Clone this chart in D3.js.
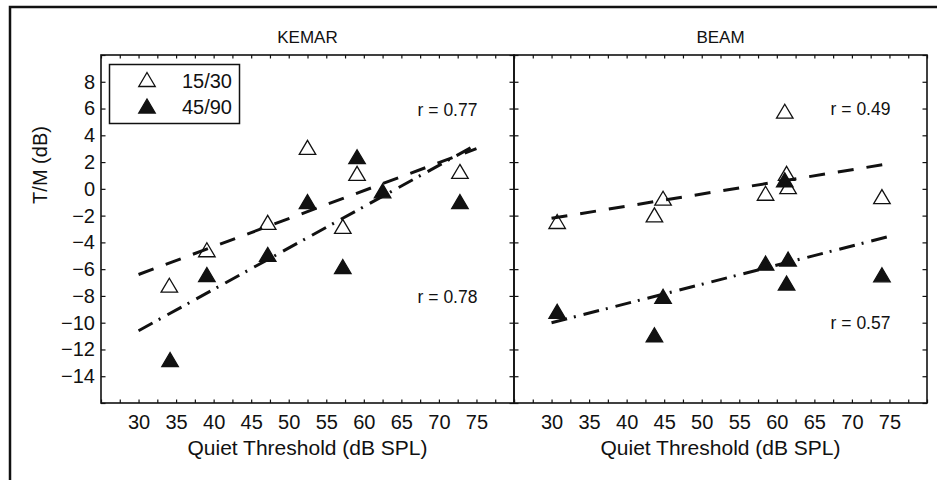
<!DOCTYPE html>
<html>
<head>
<meta charset="utf-8">
<script src="https://cdn.jsdelivr.net/npm/d3@7"></script>
<style>
  body { margin: 0; background: #fff; }
  svg text { font-family: "Liberation Sans", Arial, sans-serif; fill: #111; }
</style>
</head>
<body>
<div id="chart"></div>
<script>
// values
const seriesNames = ["15/30", "45/90"];
const panelNames = ["KEMAR", "BEAM"];

const kemarX15 = [34.1, 39.1, 47.2, 52.5, 59.1, 57.2, 72.8];
const kemarY15 = [-7.2, -4.55, -2.5, 3.1, 1.16, -2.8, 1.3];
const kemarX45 = [34.2, 39.1, 47.2, 52.5, 57.2, 59.1, 62.5, 72.8];
const kemarY45 = [-12.75, -6.4, -4.9, -0.95, -5.8, 2.4, -0.15, -0.95];

const beamX15 = [30.75, 43.7, 44.85, 58.5, 61.06, 61.3, 61.5, 74.0];
const beamY15 = [-2.44, -1.94, -0.7, -0.33, 5.8, 1.16, 0.17, -0.58];
const beamX45 = [30.75, 43.7, 44.85, 58.5, 61.06, 61.5, 61.3, 74.0];
const beamY45 = [-9.15, -10.9, -8.03, -5.55, 0.67, -5.25, -7.04, -6.42];

// regression lines: [x start, x end], [y start, y end]
const kemarFitX15 = [30, 75], kemarFitY15 = [-6.4, 3.0];
const kemarFitX45 = [30, 75], kemarFitY45 = [-10.6, 3.3];
const beamFitX15 = [30, 74.1], beamFitY15 = [-2.2, 1.8];
const beamFitX45 = [30, 75], beamFitY45 = [-10.0, -3.55];

const rLabels = [["r = 0.77", "r = 0.78"], ["r = 0.49", "r = 0.57"]];
const rLabelY = [[5.45, -8.55], [5.5, -10.45]]; // baseline, in data units

const xTickLabels = [30, 35, 40, 45, 50, 55, 60, 65, 70, 75];
const yTickLabels = [-14, -12, -10, -8, -6, -4, -2, 0, 2, 4, 6, 8];

const xDomain = [25, 80], yDomain = [-16, 10];

const W = 937, H = 480;
const plotTop = 55, plotBottom = 403;

const svg = d3.select("#chart")
    .append("svg")
    .attr("width", W)
    .attr("height", H);

// outer frame of the figure
svg.append("rect")
    .attr("x", 10).attr("y", 7)
    .attr("width", 940).attr("height", 480)
    .attr("fill", "none")
    .attr("stroke", "#111")
    .attr("stroke-width", 2.5);

const yScale = d3.scaleLinear().domain(yDomain).range([plotBottom, plotTop]);

const tri = (w, h) => `M0,${-h/2}L${w/2},${h/2}L${-w/2},${h/2}Z`;
const triPath = tri(16.5, 14);

const panels = [
    {name: panelNames[0], x0: 101, x1: 514,
     pts: [[kemarX15, kemarY15], [kemarX45, kemarY45]],
     fits: [[kemarFitX15, kemarFitY15], [kemarFitX45, kemarFitY45]]},
    {name: panelNames[1], x0: 514, x1: 927,
     pts: [[beamX15, beamY15], [beamX45, beamY45]],
     fits: [[beamFitX15, beamFitY15], [beamFitX45, beamFitY45]]}
];

const xTicks = d3.range(25, 80.01, 2.5);
const yTicks = d3.range(-16, 10.01, 2);

panels.forEach((p, i) => {
    const xScale = d3.scaleLinear().domain(xDomain).range([p.x0, p.x1]);
    const g = svg.append("g");

    // axes with inward ticks
    const fmtX = d => xTickLabels.includes(d) ? d : "";
    const fmtY = d => yTickLabels.includes(d) ? String(d).replace("-", "\u2212") : "";

    g.append("g")
        .attr("transform", `translate(0,${plotBottom})`)
        .call(d3.axisBottom(xScale).tickValues(xTicks).tickSize(-3.5).tickPadding(12).tickFormat(fmtX));
    g.append("g")
        .attr("transform", `translate(0,${plotTop})`)
        .call(d3.axisTop(xScale).tickValues(xTicks).tickSize(-3.5).tickFormat(""));
    g.append("g")
        .attr("transform", `translate(${p.x0},0)`)
        .call(d3.axisLeft(yScale).tickValues(yTicks).tickSize(-4.5).tickPadding(6)
            .tickFormat(i === 0 ? fmtY : ""));
    g.append("g")
        .attr("transform", `translate(${p.x1},0)`)
        .call(d3.axisRight(yScale).tickValues(yTicks).tickSize(-4.5).tickFormat(""));

    g.selectAll(".domain").remove();
    g.selectAll(".tick line").attr("stroke", "#111").attr("stroke-width", 1.2);
    g.selectAll(".tick text").style("font-size", "20px").attr("fill", "#111");

    // frame
    g.append("rect")
        .attr("x", p.x0).attr("y", plotTop)
        .attr("width", p.x1 - p.x0).attr("height", plotBottom - plotTop)
        .attr("fill", "none")
        .attr("stroke", "#111")
        .attr("stroke-width", 1.6);

    // title
    g.append("text")
        .attr("x", (p.x0 + p.x1) / 2).attr("y", 43)
        .attr("text-anchor", "middle")
        .style("font-size", "17px")
        .text(p.name);

    // x label
    g.append("text")
        .attr("x", (p.x0 + p.x1) / 2).attr("y", 455)
        .attr("text-anchor", "middle")
        .style("font-size", "21px")
        .text("Quiet Threshold (dB SPL)");

    // markers: open first, filled on top
    p.pts.forEach(([xs, ys], s) => {
        g.selectAll(null)
            .data(xs.map((x, k) => [x, ys[k]]))
            .join("path")
            .attr("d", triPath)
            .attr("transform", d => `translate(${xScale(d[0])},${yScale(d[1])})`)
            .attr("fill", s === 0 ? "#fff" : "#111")
            .attr("stroke", "#111")
            .attr("stroke-width", 1.3);
    });

    // regression lines
    const line = d3.line().x(d => xScale(d[0])).y(d => yScale(d[1]));
    p.fits.forEach(([fx, fy], s) => {
        g.append("path")
            .datum(fx.map((x, k) => [x, fy[k]]))
            .attr("d", line)
            .attr("fill", "none")
            .attr("stroke", "#111")
            .attr("stroke-width", 3)
            .attr("stroke-dasharray", s === 0 ? "16,13" : "16,7,2,8");
    });

    // r values
    rLabels[i].forEach((t, k) => {
        g.append("text")
            .attr("x", xScale(75) + 1)
            .attr("y", yScale(rLabelY[i][k]))
            .attr("text-anchor", "end")
            .style("font-size", "17.5px")
            .text(t);
    });
});

// y label
svg.append("text")
    .attr("transform", "translate(47,165) rotate(-90)")
    .attr("text-anchor", "middle")
    .style("font-size", "20px")
    .text("T/M (dB)");

// legend
const lg = svg.append("g");
lg.append("rect")
    .attr("x", 109.5).attr("y", 64.5)
    .attr("width", 130).attr("height", 59)
    .attr("fill", "#fff")
    .attr("stroke", "#111")
    .attr("stroke-width", 1.5);
seriesNames.forEach((n, s) => {
    const cy = s === 0 ? 79.5 : 106;
    lg.append("path")
        .attr("d", triPath)
        .attr("transform", `translate(147,${cy})`)
        .attr("fill", s === 0 ? "#fff" : "#111")
        .attr("stroke", "#111")
        .attr("stroke-width", 1.3);
    lg.append("text")
        .attr("x", 232).attr("y", cy + 8)
        .attr("text-anchor", "end")
        .style("font-size", "20px")
        .text(n);
});
</script>
</body>
</html>
